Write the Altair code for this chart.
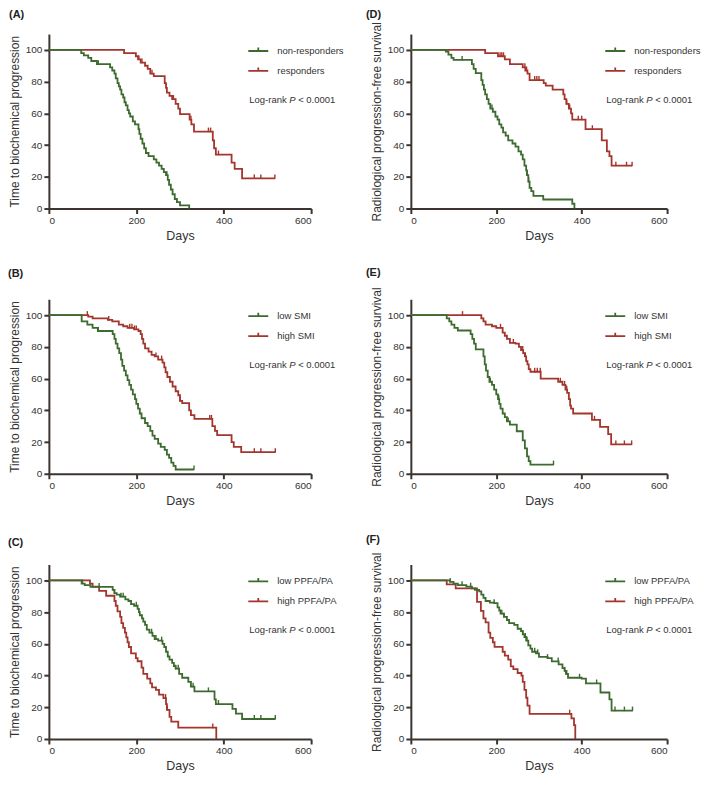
import altair as alt
import pandas as pd

GREEN = "#3c6a2f"
RED = "#a3362c"
AXIS = "#3b3430"
TEXT = "#333333"
FONT = "Liberation Sans"

# ---------- Panel A: time to biochemical progression, responders ----------
A_labels = ["non-responders", "responders"]
A_g_t = [74, 80, 90, 97, 110, 140, 145, 150, 153, 157, 160, 163, 166, 170, 173, 176, 180, 183, 186, 192,
         197, 205, 207, 210, 214, 218, 222, 228, 240, 246, 252, 258, 263, 268, 272, 275, 279, 283, 288, 293, 300, 321]
A_g_s = [98, 96.5, 95, 93, 91, 89, 87, 85, 82, 79, 77, 75, 72, 70, 67, 65, 62, 60, 58, 55,
         53, 50, 47, 44, 41, 38, 35, 33, 31, 29, 27, 25, 23, 21, 18, 15, 12, 9, 6, 4, 2, 0]
A_g_end = 321
A_g_c = [113, 270]
A_r_t = [172, 199, 204, 210, 220, 226, 232, 240, 265, 268, 270, 276, 282, 290, 296, 300, 322, 326, 332, 375,
         378, 382, 418, 425, 442]
A_r_s = [98, 96, 94, 92, 90, 88, 85, 83.5, 79, 76, 73, 71, 69, 66, 63, 59.5, 56, 53, 48.5, 43,
         38, 34, 29, 25, 19]
A_r_end = 517
A_r_c = [206, 213, 236, 285, 325, 365, 370, 388, 470, 485, 517]

# ---------- Panel D: radiological PFS, responders ----------
D_labels = ["non-responders", "responders"]
D_g_t = [82, 88, 95, 100, 143, 147, 152, 165, 168, 171, 174, 178, 182, 186, 192, 198, 203, 207, 212, 216,
         222, 228, 238, 245, 252, 258, 262, 266, 270, 272, 275, 278, 282, 287, 310, 378, 383]
D_g_s = [99, 97, 95, 93.7, 91, 88, 85.3, 81, 78, 75, 72, 69, 66, 63, 61, 58, 56, 53, 51, 48,
         46, 43, 41, 39, 36, 34, 31, 27, 24, 21, 17, 13, 11, 8, 5.7, 3, 0]
D_g_end = 383
D_g_c = [120, 190, 272, 276]
D_r_t = [174, 204, 220, 232, 262, 268, 273, 278, 311, 316, 332, 357, 360, 364, 370, 375, 378, 409, 447, 459,
         465, 470]
D_r_s = [98, 96, 94, 91, 89, 87, 85, 81, 79, 77.5, 75, 72, 69, 66, 63, 60, 56, 50, 43, 36,
         33, 27]
D_r_end = 518
D_r_c = [209, 213, 217, 267, 271, 290, 295, 300, 365, 372, 392, 400, 425, 480, 505, 518]

# ---------- Panel B: time to biochemical progression, SMI ----------
B_labels = ["low SMI", "high SMI"]
B_g_t = [75, 88, 100, 112, 146, 150, 153, 157, 161, 165, 168, 172, 176, 180, 184, 188, 192, 197, 200, 204,
         208, 212, 220, 226, 232, 237, 242, 250, 256, 265, 270, 275, 280, 285, 290]
B_g_s = [96, 94, 92, 90, 88, 85, 82, 79, 76, 72, 68, 65, 62, 59, 56, 53, 50, 47, 44, 41,
         38, 35, 32, 30, 27, 24, 22, 19, 17, 15, 12, 10, 7, 5, 2.7]
B_g_end = 332
B_g_c = [113, 332]
B_r_t = [90, 100, 135, 145, 160, 170, 180, 195, 205, 210, 213, 216, 220, 228, 235, 242, 250, 260, 264, 267,
         271, 277, 283, 290, 296, 300, 305, 321, 325, 333, 374, 380, 385, 418, 423, 440]
B_r_s = [99, 98, 97, 96, 94, 93, 92, 91, 90, 88, 85, 82, 79, 77, 75, 74, 72, 70, 67, 64,
         61, 58, 55, 52, 49.5, 46, 44.5, 40, 37, 34.6, 30, 27, 24.3, 20, 17, 13.6]
B_r_end = 518
B_r_c = [88, 137, 185, 190, 196, 200, 245, 258, 300, 368, 372, 470, 485, 518]

# ---------- Panel E: radiological PFS, SMI ----------
E_labels = ["low SMI", "high SMI"]
E_g_t = [84, 90, 95, 102, 110, 140, 144, 148, 152, 170, 173, 176, 180, 184, 190, 195, 200, 204, 207, 210,
         215, 220, 225, 232, 248, 262, 267, 272, 276, 280]
E_g_s = [98, 96, 94, 92, 90.3, 88, 85, 82, 78.4, 74, 69, 65, 61, 58, 56, 53, 50, 47, 44, 41,
         38, 35.7, 33, 31, 26.8, 21, 16, 11, 8, 5.8]
E_g_end = 334
E_g_c = [186, 206, 228, 334]
E_r_t = [165, 170, 175, 190, 200, 215, 220, 225, 232, 245, 253, 258, 263, 267, 270, 273, 276, 280, 304, 345,
         355, 362, 366, 370, 373, 375, 380, 424, 443, 462, 469]
E_r_s = [98, 96, 94, 93, 92, 89, 87, 85, 82.5, 82, 80, 78, 76, 74, 71, 69, 66, 64.3, 60, 58,
         56, 53, 51, 47, 43, 41, 38, 34, 29.5, 25, 18.5]
E_r_end = 517
E_r_c = [121, 210, 240, 262, 268, 290, 296, 303, 350, 360, 365, 430, 480, 500, 517]

# ---------- Panel C: time to biochemical progression, PPFA/PA ----------
C_labels = ["low PPFA/PA", "high PPFA/PA"]
C_g_t = [75, 82, 95, 146, 150, 155, 163, 175, 182, 188, 195, 203, 206, 208, 213, 216, 220, 224, 230, 237,
         242, 250, 260, 264, 268, 272, 276, 282, 286, 290, 298, 305, 319, 325, 333, 379, 382, 420, 428, 442]
C_g_s = [98, 97, 95.9, 94, 92, 91, 89.7, 88, 87, 85, 84, 82, 80, 78, 76, 74, 72, 69, 67, 65,
         63, 62, 60, 58, 55, 52, 50, 48, 46, 44.3, 41, 38.6, 36, 33, 30, 25, 22, 19, 16, 12.6]
C_g_end = 518
C_g_c = [77, 115, 150, 165, 170, 200, 235, 245, 258, 290, 296, 330, 365, 388, 470, 485, 518]
C_r_t = [94, 100, 115, 131, 150, 153, 157, 163, 166, 170, 174, 177, 180, 183, 188, 199, 203, 212, 216, 225,
         232, 236, 245, 252, 262, 268, 270, 276, 280, 296, 383]
C_r_s = [98, 96, 93.4, 90.3, 87, 84, 80.4, 77, 73, 70, 67, 64, 61, 58, 54, 51, 49, 45, 41, 38,
         35, 32.6, 31, 28, 25.8, 22, 18.4, 14, 11, 7.2, 0]
C_r_end = 383
C_r_c = [267, 271, 375]

# ---------- Panel F: radiological PFS, PPFA/PA ----------
F_labels = ["low PPFA/PA", "high PPFA/PA"]
F_g_t = [92, 100, 110, 130, 143, 150, 160, 165, 170, 175, 185, 195, 203, 207, 210, 218, 225, 230, 242, 250,
         258, 262, 266, 270, 275, 280, 284, 293, 300, 320, 330, 346, 355, 360, 363, 368, 400, 410, 444, 465, 470]
F_g_s = [99, 98, 97, 96, 95, 94, 93, 91, 89, 87, 86, 85.6, 83, 81, 79, 77, 75, 73, 72, 69.5,
         68, 66, 64.3, 62, 59, 57, 55, 54, 51.8, 51, 48.9, 47, 44.7, 43, 41, 38.6, 38, 35, 29.3, 25, 17.9]
F_g_end = 519
F_g_c = [92, 120, 140, 195, 213, 218, 262, 268, 272, 290, 297, 320, 345, 360, 365, 395, 435, 478, 500, 519]
F_r_t = [84, 105, 155, 164, 170, 175, 182, 186, 192, 196, 215, 220, 228, 234, 240, 250, 259, 262, 266, 270,
         273, 278, 376, 382, 385]
F_r_s = [97.5, 95, 86.4, 80.8, 76, 73.5, 67, 63.7, 61, 58.1, 55, 52.6, 50, 45.8, 44, 41.6, 40, 36, 31, 26,
         21, 15.9, 13, 8.7, 0]
F_r_end = 385
F_r_c = [372]

X_TICKS = [0, 200, 400, 600]
Y_TICKS = [0, 20, 40, 60, 80, 100]
YT_BIO = "Time to biochemical progression"
YT_RAD = "Radiological progression-free survival"

TICK_SHAPE = "M0,-1V0.15"
LEGEND_SHAPE = "M-1,0H1M0,0V-0.35"


def km_frame(name, t, s, end):
    days = [0] + list(t)
    surv = [100.0] + list(s)
    if end > t[-1]:
        days.append(end)
        surv.append(s[-1])
    return pd.DataFrame({"day": days, "surv": surv, "group": name})


def cens_frame(t, s, cens):
    vals = []
    for c in cens:
        v = 100.0
        for ti, si in zip(t, s):
            if ti <= c:
                v = si
        vals.append(v)
    return pd.DataFrame({"day": list(cens), "surv": vals})


def panel(letter, ytitle, labels, g, r, width, legx, lx, ly):
    g_t, g_s, g_end, g_c = g
    r_t, r_s, r_end, r_c = r
    xenc = alt.X("day:Q", scale=alt.Scale(domain=[0, 600], nice=False),
                 axis=alt.Axis(values=X_TICKS, tickCount=len(X_TICKS), title="Days", format="d",
                               labelOverlap=False))
    yenc = alt.Y("surv:Q", scale=alt.Scale(domain=[0, 110], nice=False),
                 axis=alt.Axis(values=Y_TICKS, tickCount=len(Y_TICKS), title=ytitle, format="d",
                               labelOverlap=False))
    cenc = alt.Color("group:N",
                     scale=alt.Scale(domain=labels, range=[GREEN, RED]),
                     legend=alt.Legend(title=None, orient="none", legendX=legx, legendY=6,
                                       direction="vertical", symbolType=LEGEND_SHAPE,
                                       symbolSize=400, symbolStrokeWidth=1.8, rowPadding=4,
                                       labelOffset=8, labelFontSize=9.5, labelFont=FONT,
                                       labelColor=TEXT, padding=0))
    red_line = alt.Chart(km_frame(labels[1], r_t, r_s, r_end)).mark_line(
        interpolate="step-after", strokeWidth=1.8).encode(x=xenc, y=yenc, color=cenc)
    green_line = alt.Chart(km_frame(labels[0], g_t, g_s, g_end)).mark_line(
        interpolate="step-after", strokeWidth=1.8).encode(x=xenc, y=yenc, color=cenc)
    red_c = alt.Chart(cens_frame(r_t, r_s, r_c)).mark_point(
        shape=TICK_SHAPE, size=64, filled=False, strokeWidth=1.4, color=RED, opacity=1).encode(x="day:Q", y="surv:Q")
    green_c = alt.Chart(cens_frame(g_t, g_s, g_c)).mark_point(
        shape=TICK_SHAPE, size=64, filled=False, strokeWidth=1.4, color=GREEN, opacity=1).encode(x="day:Q", y="surv:Q")
    one = pd.DataFrame({"k": [0]})
    tx = legx + 2
    ty = 66
    t1 = alt.Chart(one).mark_text(text="Log-rank", align="left", baseline="middle", fontSize=9.5,
                                  font=FONT, color=TEXT).encode(x=alt.value(tx), y=alt.value(ty))
    t2 = alt.Chart(one).mark_text(text="P", align="left", baseline="middle", fontSize=9.5,
                                  font=FONT, fontStyle="italic", color=TEXT).encode(x=alt.value(tx + 40), y=alt.value(ty))
    t3 = alt.Chart(one).mark_text(text="< 0.0001", align="left", baseline="middle", fontSize=9.5,
                                  font=FONT, color=TEXT).encode(x=alt.value(tx + 49), y=alt.value(ty))
    t4 = alt.Chart(one).mark_text(text=letter, align="left", baseline="middle", fontSize=11,
                                  font=FONT, fontWeight="bold", color="#222222").encode(
        x=alt.value(lx), y=alt.value(ly))
    return alt.layer(red_line, green_line, red_c, green_c, t1, t2, t3, t4).properties(
        width=width, height=175)


LW, RW = 263, 257
pA = panel("(A)", YT_BIO, A_labels, (A_g_t, A_g_s, A_g_end, A_g_c), (A_r_t, A_r_s, A_r_end, A_r_c), LW, 199, -40, -19)
pD = panel("(D)", YT_RAD, D_labels, (D_g_t, D_g_s, D_g_end, D_g_c), (D_r_t, D_r_s, D_r_end, D_r_c), RW, 194, -45, -19)
pB = panel("(B)", YT_BIO, B_labels, (B_g_t, B_g_s, B_g_end, B_g_c), (B_r_t, B_r_s, B_r_end, B_r_c), LW, 199, -41, -25)
pE = panel("(E)", YT_RAD, E_labels, (E_g_t, E_g_s, E_g_end, E_g_c), (E_r_t, E_r_s, E_r_end, E_r_c), RW, 194, -45, -26)
pC = panel("(C)", YT_BIO, C_labels, (C_g_t, C_g_s, C_g_end, C_g_c), (C_r_t, C_r_s, C_r_end, C_r_c), LW, 199, -41, -22)
pF = panel("(F)", YT_RAD, F_labels, (F_g_t, F_g_s, F_g_end, F_g_c), (F_r_t, F_r_s, F_r_end, F_r_c), RW, 194, -45, -25)

chart = alt.concat(pA, pD, pB, pE, pC, pF, columns=2, spacing={"row": 91, "column": 100},
                   bounds="flush").resolve_scale(color="independent").properties(
    padding=0, background="white"
).configure_axis(
    grid=False, domainColor=AXIS, domainWidth=2, tickColor=AXIS, tickWidth=2, tickSize=5,
    labelColor=TEXT, labelFontSize=10, labelFont=FONT, labelPadding=2, labelOverlap=False,
    titleFont=FONT, titleFontSize=12, titleFontWeight="normal", titleColor=TEXT
).configure_axisY(titlePadding=4).configure_axisX(titlePadding=4, titleFontSize=12.5
).configure_view(strokeWidth=0)

chart.save("out.html", embed_options={"renderer": "svg", "actions": False})
